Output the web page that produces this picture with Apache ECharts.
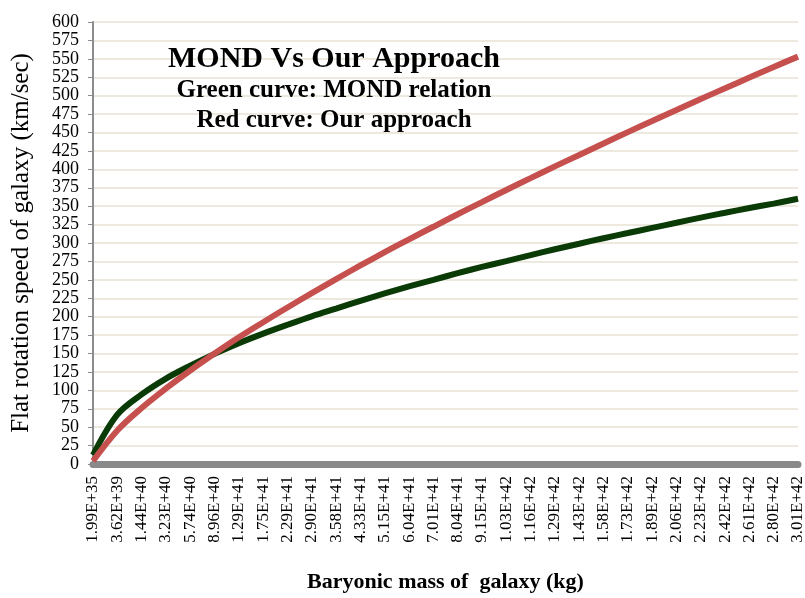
<!DOCTYPE html>
<html lang="en">
<head>
  <meta charset="UTF-8" />
  <script src="https://cdn.jsdelivr.net/npm/echarts@6/dist/echarts.min.js"></script>
  <title>MOND Vs Our Approach</title>
  <style>
    html, body { margin: 0; padding: 0; background: #fff; }
  </style>
</head>
<body>
  <div id="main" style="width: 805px; height: 598px;"></div>
  <script type="text/javascript">
    // baryonic mass labels (kg)
    var massLabels = [
      "1.99E+35", "3.62E+39", "1.44E+40", "3.23E+40", "5.74E+40", "8.96E+40",
      "1.29E+41", "1.75E+41", "2.29E+41", "2.90E+41", "3.58E+41", "4.33E+41",
      "5.15E+41", "6.04E+41", "7.01E+41", "8.04E+41", "9.15E+41", "1.03E+42",
      "1.16E+42", "1.29E+42", "1.43E+42", "1.58E+42", "1.73E+42", "1.89E+42",
      "2.06E+42", "2.23E+42", "2.42E+42", "2.61E+42", "2.80E+42", "3.01E+42"
    ];
    // green curve: MOND relation (km/sec)
    var mondSpeed = [
      12, 67, 94.5, 116, 133.5, 149.5, 164, 177, 189, 200.5,
      211, 221.5, 231.5, 241, 250, 259, 267.5, 275.5, 283.5, 291.5,
      299, 306.5, 313.5, 320.5, 327.5, 334.5, 341, 347.5, 353.5, 360
    ];
    // red curve: our approach (km/sec)
    var ourSpeed = [
      4, 45.5, 76, 102.5, 127, 150, 172, 192.5, 212.5, 232,
      251, 269.5, 287.5, 305, 322, 339, 355.5, 372, 388, 404,
      419.5, 435, 450.5, 465.5, 480.5, 495.5, 510, 524.5, 539, 553
    ];

    var serif = '"Liberation Serif", "Times New Roman", serif';
    var myChart = echarts.init(document.getElementById("main"));

    myChart.setOption({
      animation: false,
      backgroundColor: "#ffffff",
      title: [
        {
          text: "MOND Vs Our Approach",
          left: 334, top: 44, textAlign: "center", padding: 0,
          textStyle: { fontFamily: serif, fontWeight: "bold", fontSize: 30, color: "#000" }
        },
        {
          text: "Green curve: MOND relation",
          left: 334, top: 78, textAlign: "center", padding: 0,
          textStyle: { fontFamily: serif, fontWeight: "bold", fontSize: 25, color: "#000" }
        },
        {
          text: "Red curve: Our approach",
          left: 334, top: 108, textAlign: "center", padding: 0,
          textStyle: { fontFamily: serif, fontWeight: "bold", fontSize: 25, color: "#000" }
        }
      ],
      grid: {
        left: 93, right: 7, top: 22, bottom: 134,
        containLabel: false,
        outerBoundsMode: "none"
      },
      xAxis: {
        type: "category",
        data: massLabels,
        boundaryGap: false,
        name: "Baryonic mass of  galaxy (kg)",
        nameLocation: "middle",
        nameGap: 107,
        nameMoveOverlap: false,
        nameTextStyle: { fontFamily: serif, fontWeight: "bold", fontSize: 22, color: "#000" },
        axisLine: { lineStyle: { color: "#898989", width: 7 } },
        axisTick: { show: false },
        axisLabel: {
          interval: 0, rotate: 90, margin: 12, hideOverlap: false,
          fontFamily: serif, fontSize: 17, color: "#000"
        },
        splitLine: { show: false }
      },
      yAxis: {
        type: "value",
        min: 0, max: 600, interval: 25,
        name: "Flat rotation speed of galaxy (km/sec)",
        nameLocation: "middle",
        nameGap: 59,
        nameMoveOverlap: false,
        nameTextStyle: { fontFamily: serif, fontSize: 25, color: "#000" },
        axisLine: { show: true, lineStyle: { color: "#8c8c8c", width: 2 } },
        axisTick: { show: true, length: 5, lineStyle: { color: "#8c8c8c", width: 1 } },
        axisLabel: {
          margin: 14, showMinLabel: true, showMaxLabel: true, hideOverlap: false,
          fontFamily: serif, fontSize: 18, lineHeight: 18, color: "#000"
        },
        splitLine: { lineStyle: { color: "#ede9de", width: 2 } }
      },
      series: [
        {
          name: "MOND relation",
          type: "line",
          data: mondSpeed,
          smooth: 0.35,
          showSymbol: false,
          lineStyle: { color: "#0a3a06", width: 6 },
          itemStyle: { color: "#0a3a06" }
        },
        {
          name: "Our approach",
          type: "line",
          data: ourSpeed,
          smooth: 0.35,
          showSymbol: false,
          lineStyle: { color: "#c6504e", width: 6 },
          itemStyle: { color: "#c6504e" }
        }
      ]
    });
  </script>
</body>
</html>
